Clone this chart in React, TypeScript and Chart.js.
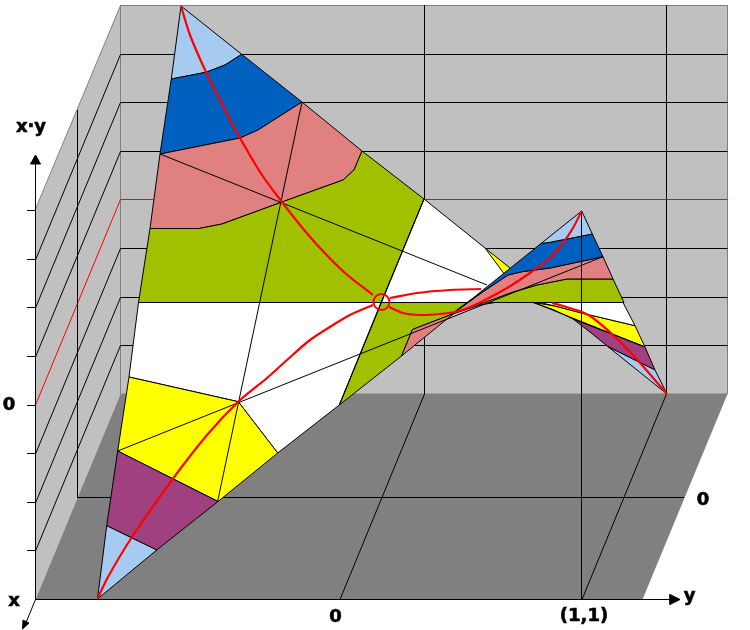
import React, { useEffect, useRef } from "react";
import { Chart, registerables } from "chart.js";

Chart.register(...registerables);

type P = number[];

// ---- planes of the box ----
const backWall: P[] = [[120.5, 5.5], [727.5, 5.5], [727.5, 394], [120.5, 394]];
const sideWall: P[] = [[35.5, 209], [120.5, 5.5], [120.5, 394], [35.5, 599.5]];
const floorPlane: P[] = [[35.5, 599.5], [120.5, 394], [727.5, 394], [642.5, 599.5]];

// ---- grid ----
const gridLevels = [54.5, 102.5, 151.5, 248.5, 297.5, 345.5];
const zeroLevel = 199.5;
const sideDrop = 205.5;
const backVerticals = [424.5, 666.5];
const floorShift = -84.5;
const tickLevels = [210.5, 259.5, 307.5, 356.5, 405.5, 453.5, 502.5, 550.5];
const sideVertical: P[] = [[77.5, 110], [77.5, 497.5]];
const floorHorizontal: P[] = [[77.5, 497.5], [684, 497.5]];
const unitVertical: P[] = [[581.5, 211], [581.5, 599.5]];

// ---- axes ----
const zAxis: P[] = [[35.5, 160], [35.5, 599.5]];
const yAxis: P[] = [[35.5, 599.5], [672, 599.5]];
const xAxis: P[] = [[35.5, 599.5], [25, 625]];
const zArrow: P[] = [[35.5, 155], [40.5, 164], [30.5, 164]];
const yArrow: P[] = [[680, 599.5], [670, 594.5], [670, 604.5]];
const xArrow: P[] = [[22.5, 629], [23, 620], [29, 623]];

// ---- contour bands of the surface, left sheet ----
const bandBlueLightA: P[] = [[181, 6], [241.7, 54.3], [225, 65], [206, 72.3], [171.3, 79]];
const bandBlueA: P[] = [[171.3, 79], [206, 72.3], [225, 65], [241.7, 54.3], [302, 102], [258, 130], [240, 138], [160, 154]];
const bandPinkA: P[] = [[160, 154], [240, 138], [258, 130], [302, 102], [362, 151], [354, 170], [343, 180], [282, 202], [222, 224], [199, 228.5], [150, 228.5]];
const bandGreenA: P[] = [[150, 228.5], [199, 228.5], [222, 224], [282, 202], [343, 180], [354, 170], [362, 151], [424, 199], [381, 302.5], [138.5, 302.5]];
const bandWhiteA: P[] = [[138.5, 302.5], [381, 302.5], [339.3, 405], [277.7, 453], [238.3, 401.7], [129, 377]];
const bandYellowA: P[] = [[129, 377], [238.3, 401.7], [277.7, 453], [218, 501.5], [117.7, 451]];
const bandPurpleA: P[] = [[117.7, 451], [218, 501.5], [156.7, 550], [106.7, 525.7]];
const bandBlueLightB: P[] = [[106.7, 525.7], [156.7, 550], [97.5, 599]];

// ---- middle and right sheet ----
const bandYellowBack: P[] = [[485, 248], [510, 268], [503, 277]];
const bandWhiteMid: P[] = [[424, 199], [485, 248], [505, 275], [467, 302.5], [381, 302.5]];
const bandGreenMid: P[] = [[381, 302.5], [467, 302.5], [450, 315], [412.5, 329.5], [401.5, 356], [339.3, 405]];
const bandLowerYellow: P[] = [[533, 302.5], [555, 306], [581.7, 313], [635, 325.7], [645, 347], [573, 319], [553, 309.5]];
const bandLowerWhite: P[] = [[540, 302.5], [623, 302.5], [635, 325.7], [581.7, 313], [555, 306]];
const bandLowerPurple: P[] = [[573, 319], [645, 347], [655, 370], [608, 346.7], [590, 332]];
const bandLowerLight: P[] = [[608, 346.7], [655, 370], [667, 394]];
const bandGreenRight: P[] = [[624, 302.5], [613, 279], [567, 279], [537, 285], [513, 292], [480, 303], [458, 312], [480, 305], [495, 302.5]];
const bandPinkRight: P[] = [[603, 256.7], [613, 279], [567, 279], [537, 285], [513, 292], [483, 303], [450, 315], [412.5, 329.5], [401.5, 356], [466.7, 303], [483, 291.7], [508, 275], [522, 271.7], [550, 268]];
const bandBlueRight: P[] = [[592.3, 234], [603, 256.7], [550, 268], [522, 271.7], [508, 275], [483, 291.7], [460, 308.5], [541, 243.5], [550, 242.3]];
const bandLightRight: P[] = [[581.7, 211], [592.3, 234], [550, 242.3], [541, 243.5]];

// ---- straight rulings on the surface ----
const rulingA: P[] = [[302, 102], [217.5, 502]];
const rulingB: P[] = [[424, 199], [339.3, 405]];
const rulingC: P[] = [[160, 154], [487, 285]];
const rulingC2: P[] = [[535, 303], [645, 347]];
const rulingD: P[] = [[117.7, 451], [603, 256.7]];
const rulingE: P[] = [[138.5, 302.5], [463, 302.5]];
const rulingE2: P[] = [[490, 302.5], [624, 302.5]];

// ---- red curves ----
const curveDownLeft: P[] = [[181, 6], [190, 35], [206, 72], [225, 110], [240, 138], [262, 175], [282, 202], [300, 225], [320, 248], [345, 273], [373, 295]];
const curveDownRight: P[] = [[389, 307], [403, 313], [420, 315], [440, 314], [455, 312], [468, 308], [483, 301], [507, 288], [530, 273], [550, 258], [563, 243], [573, 228], [581.7, 211]];
const curveUpLeft: P[] = [[97.5, 599], [108, 577], [132, 537], [172, 480], [207, 435], [238.3, 401.7], [267, 378], [287, 360], [310, 340], [333, 325], [350, 315], [373, 305]];
const curveUpRight: P[] = [[390, 298], [417, 293], [450, 290], [481, 289]];
const curveUpFar: P[] = [[552, 303], [563, 306], [582, 312], [593, 318], [613, 335], [633, 355], [667, 394]];
const saddlePoint: P[] = [[381.5, 302]];

// ---- red zero level on walls ----
const zeroBackLeft: P[] = [[120.5, zeroLevel], [153, zeroLevel]];
const zeroBackRight: P[] = [[424, zeroLevel], [727.5, zeroLevel]];
const zeroSide: P[] = [[120.5, zeroLevel], [35.5, zeroLevel + sideDrop]];

// ---- texts ----
const labelTexts = ["x·y", "0", "x", "0", "(1,1)", "y", "0"];
const labelXs = [31, 9, 14, 335.5, 584, 689.5, 703];
const labelYs = [127, 405, 601, 617, 616, 596, 500];

// ---- colours ----
const WALL = "#C0C0C0";
const FLOOR = "#808080";
const LIGHT = "#A6CAF0";
const BLUE = "#0060C0";
const PINK = "#E08080";
const GREEN = "#A0C000";
const WHITE = "#FFFFFF";
const YELLOW = "#FFFF00";
const PURPLE = "#A04080";
const RED = "#FF0000";
const BLACK = "#000000";

const pts = (a: P[]) => a.map(([x, y]) => ({ x, y }));
const base = { showLine: true, pointRadius: 0, tension: 0, clip: false, borderJoinStyle: "miter" as const };
const area = (a: P[], color: string, edge: string | null = BLACK) => ({
  ...base,
  data: pts([...a, a[0]]),
  backgroundColor: color,
  borderColor: edge ?? color,
  borderWidth: edge ? 1 : 0,
  fill: "shape",
});
const line = (a: P[], color = BLACK, width = 1) => ({
  ...base,
  data: pts(a),
  borderColor: color,
  borderWidth: width,
  fill: false,
});

function buildDatasets() {
  const list: any[] = [
    area(backWall, WALL, FLOOR),
    area(sideWall, WALL, null),
    line([sideWall[0], sideWall[1]], FLOOR),
    area(floorPlane, FLOOR, null),
    line([[120.5, 5.5], [120.5, 394]], FLOOR),
  ];
  gridLevels.forEach((y) => {
    list.push(line([[120.5, y], [727.5, y]]));
    list.push(line([[120.5, y], [35.5, y + sideDrop]]));
  });
  list.push(line(zeroBackLeft, RED), line(zeroBackRight, RED), line(zeroSide, RED));
  backVerticals.forEach((x) => {
    list.push(line([[x, 5.5], [x, 394]]));
    list.push(line([[x, 394], [x + floorShift, 599.5]]));
  });
  list.push(line(sideVertical), line(floorHorizontal));
  tickLevels.forEach((y) => list.push(line([[27, y], [35.5, y]])));

  [
    area(bandYellowBack, YELLOW),
    area(bandLowerYellow, YELLOW),
    area(bandLowerWhite, WHITE),
    area(bandLowerPurple, PURPLE),
    area(bandLowerLight, LIGHT),
    area(bandWhiteMid, WHITE),
    area(bandGreenMid, GREEN),
    area(bandGreenRight, GREEN),
    area(bandPinkRight, PINK),
    area(bandBlueRight, BLUE),
    area(bandLightRight, LIGHT),
    area(bandBlueLightA, LIGHT),
    area(bandBlueA, BLUE),
    area(bandPinkA, PINK),
    area(bandGreenA, GREEN),
    area(bandWhiteA, WHITE),
    area(bandYellowA, YELLOW),
    area(bandPurpleA, PURPLE),
    area(bandBlueLightB, LIGHT),
  ].forEach((d) => list.push(d));

  [rulingA, rulingB, rulingC, rulingC2, rulingD, rulingE, rulingE2, unitVertical, zAxis, yAxis, xAxis].forEach((r) =>
    list.push(line(r))
  );
  [zArrow, yArrow, xArrow].forEach((a) => list.push(area(a, BLACK)));
  [curveDownLeft, curveDownRight, curveUpLeft, curveUpRight, curveUpFar].forEach((c) =>
    list.push({ ...line(c, RED, 2.2), tension: 0.3 })
  );
  list.push({
    data: pts(saddlePoint),
    showLine: false,
    clip: false,
    pointRadius: 8,
    pointBorderWidth: 2,
    pointBorderColor: RED,
    pointBackgroundColor: "rgba(0,0,0,0)",
  });
  return list.map((d, i) => ({ ...d, order: -i }));
}

const labelPlugin = {
  id: "figureLabels",
  afterDatasetsDraw(chart: any) {
    const { ctx, scales } = chart;
    ctx.save();
    ctx.fillStyle = BLACK;
    ctx.strokeStyle = BLACK;
    ctx.lineWidth = 0.6;
    ctx.font = 'bold 18px "DejaVu Sans"';
    ctx.textAlign = "center";
    ctx.textBaseline = "middle";
    labelTexts.forEach((t, i) => {
      const px = scales.x.getPixelForValue(labelXs[i]);
      const py = scales.y.getPixelForValue(labelYs[i]);
      ctx.fillText(t, px, py);
      ctx.strokeText(t, px, py);
    });
    ctx.restore();
  },
};

export default function App() {
  const ref = useRef<HTMLCanvasElement>(null);
  useEffect(() => {
    document.body.style.margin = "0";
    const chart = new Chart(ref.current as HTMLCanvasElement, {
      type: "scatter",
      data: { datasets: buildDatasets() },
      options: {
        animation: false,
        responsive: false,
        devicePixelRatio: 1,
        layout: { padding: 0, autoPadding: false },
        plugins: { legend: { display: false }, tooltip: { enabled: false }, title: { display: false } },
        scales: {
          x: { type: "linear", min: 0, max: 750, display: false },
          y: { type: "linear", min: 0, max: 630, reverse: true, display: false },
        },
      },
      plugins: [labelPlugin],
    } as any);
    return () => chart.destroy();
  }, []);
  return <canvas ref={ref} width={750} height={630} style={{ display: "block" }} />;
}
